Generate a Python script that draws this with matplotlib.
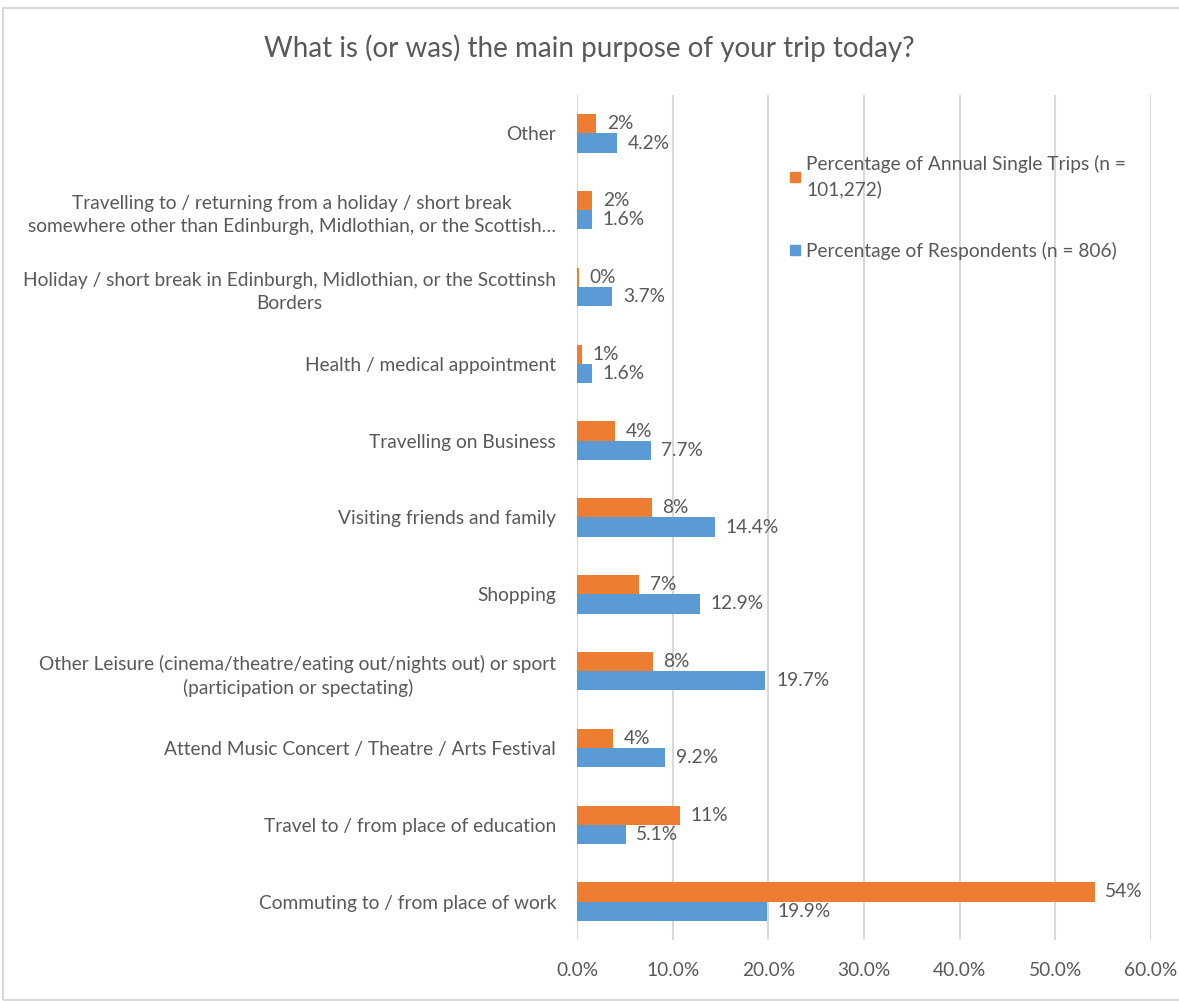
import matplotlib
matplotlib.use("Agg")
import matplotlib.pyplot as plt
from matplotlib.lines import Line2D
from matplotlib.patches import Rectangle
import numpy as np

categories = [
    "Commuting to / from place of work",
    "Travel to / from place of education",
    "Attend Music Concert / Theatre / Arts Festival",
    "Other Leisure (cinema/theatre/eating out/nights out) or sport\n(participation or spectating)",
    "Shopping",
    "Visiting friends and family",
    "Travelling on Business",
    "Health / medical appointment",
    "Holiday / short break in Edinburgh, Midlothian, or the Scottinsh\nBorders",
    "Travelling to / returning from a holiday / short break\nsomewhere other than Edinburgh, Midlothian, or the Scottish\u2026",
    "Other",
]
annual_trips = [54.1, 10.8, 3.8, 7.9, 6.5, 7.8, 4.0, 0.5, 0.2, 1.6, 2.0]
annual_labels = ["54%", "11%", "4%", "8%", "7%", "8%", "4%", "1%", "0%", "2%", "2%"]
respondents = [19.9, 5.1, 9.2, 19.7, 12.9, 14.4, 7.7, 1.6, 3.7, 1.6, 4.2]
resp_labels = ["19.9%", "5.1%", "9.2%", "19.7%", "12.9%", "14.4%", "7.7%", "1.6%", "3.7%", "1.6%", "4.2%"]
xticks = [0, 10, 20, 30, 40, 50, 60]
xtick_labels = ["0.0%", "10.0%", "20.0%", "30.0%", "40.0%", "50.0%", "60.0%"]
series_names = ["Percentage of Annual Single Trips (n =\n101,272)", "Percentage of Respondents (n = 806)"]
title = "What is (or was) the main purpose of your trip today?"

ORANGE = "#ED7D31"
BLUE = "#5B9BD5"
TEXT = "#595959"
GRID = "#D9D9D9"
FS = 13.8

plt.rcParams['font.family'] = ['Lato', 'DejaVu Sans']

fig = plt.figure(figsize=(11.79, 10.01), dpi=100)
fig.patches.append(Rectangle((3/1179, 1 - 1000/1001), 1 - 3/1179 + 0.01, (1000 - 8) / 1001,
                             transform=fig.transFigure, fill=False, edgecolor=GRID, linewidth=1.5))
ax = fig.add_axes([577/1179, 1 - 940/1001, (1151 - 577)/1179, (940 - 95)/1001])

y = np.arange(len(categories))
h = 0.25
ax.barh(y + h/2, annual_trips, height=h, color=ORANGE, zorder=3)
ax.barh(y - h/2, respondents, height=h, color=BLUE, zorder=3)

for yi, v, lab in zip(y, annual_trips, annual_labels):
    ax.text(v + 1.1, yi + h/2, lab, va='center', ha='left', fontsize=FS, color=TEXT)
for yi, v, lab in zip(y, respondents, resp_labels):
    ax.text(v + 1.1, yi - h/2, lab, va='center', ha='left', fontsize=FS, color=TEXT)

ax.set_xlim(0, 60)
ax.set_ylim(-0.5, len(categories) - 0.5)
ax.set_xticks(xticks)
ax.set_xticklabels(xtick_labels, fontsize=FS, color=TEXT)
ax.set_yticks(y)
ax.set_yticklabels(categories, fontsize=FS, color=TEXT, multialignment='center', linespacing=1.45)
ax.tick_params(axis='both', length=0)
ax.tick_params(axis='y', pad=15)
ax.tick_params(axis='x', pad=16)
ax.grid(axis='x', color=GRID, linewidth=1.5, zorder=0)
for s in ax.spines.values():
    s.set_visible(False)
ax.axvline(0, color=GRID, linewidth=1.5, zorder=2)

handles = [Line2D([], [], marker='s', linestyle='none', color=ORANGE, markersize=7),
           Line2D([], [], marker='s', linestyle='none', color=BLUE, markersize=7)]
leg = fig.legend(handles, series_names, loc='upper left', bbox_to_anchor=(770/1179, 1 - 138/1001),
                 frameon=False, fontsize=FS, labelcolor=TEXT, handletextpad=0.2,
                 handlelength=0.8, labelspacing=2.3)
for t in leg.get_texts():
    t.set_linespacing(1.45)

fig.text(0.5, 1 - 48/1001, title, ha='center', va='center', fontsize=20, color=TEXT)

fig.savefig("out.png", dpi=100)
